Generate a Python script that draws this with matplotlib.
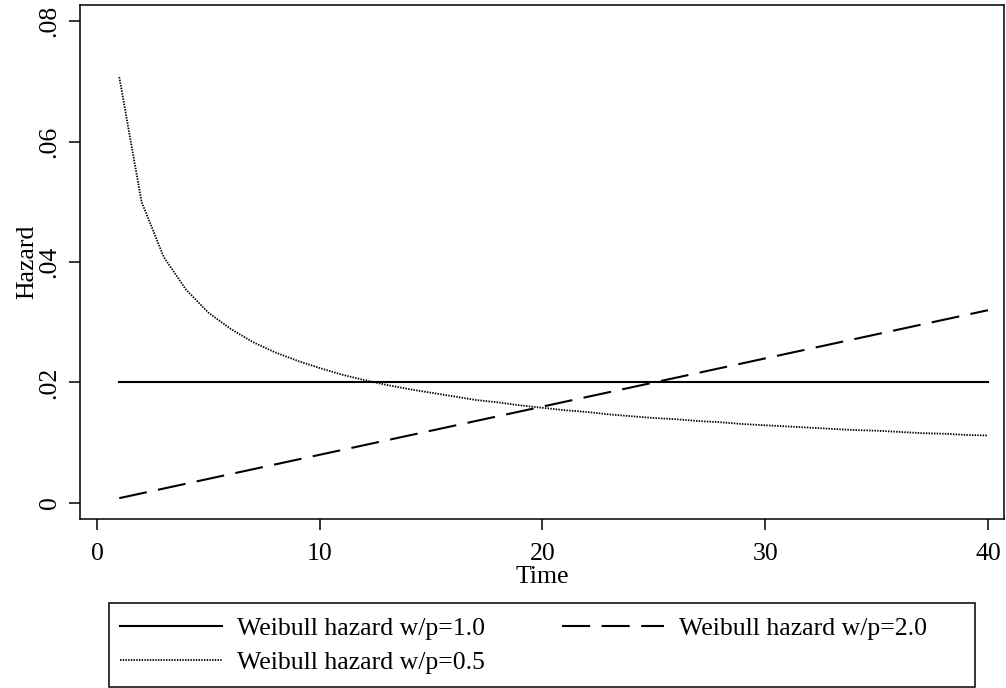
import matplotlib
matplotlib.use("Agg")
import matplotlib.pyplot as plt
from matplotlib.patches import Rectangle

plt.rcParams['font.family'] = ['Liberation Serif', 'DejaVu Serif']

# Time points (integer periods) and hazard values
time = list(range(1, 41))

haz_p10 = [0.020] * 40

haz_p20 = [0.0008, 0.0016, 0.0024, 0.0032, 0.0040, 0.0048, 0.0056, 0.0064,
           0.0072, 0.0080, 0.0088, 0.0096, 0.0104, 0.0112, 0.0120, 0.0128,
           0.0136, 0.0144, 0.0152, 0.0160, 0.0168, 0.0176, 0.0184, 0.0192,
           0.0200, 0.0208, 0.0216, 0.0224, 0.0232, 0.0240, 0.0248, 0.0256,
           0.0264, 0.0272, 0.0280, 0.0288, 0.0296, 0.0304, 0.0312, 0.0320]

haz_p05 = [0.0707, 0.0500, 0.0408, 0.0354, 0.0316, 0.0289, 0.0267, 0.0250,
           0.0236, 0.0224, 0.0213, 0.0204, 0.0196, 0.0189, 0.0183, 0.0177,
           0.0171, 0.0167, 0.0162, 0.0158, 0.0154, 0.0151, 0.0147, 0.0144,
           0.0141, 0.0139, 0.0136, 0.0134, 0.0131, 0.0129, 0.0127, 0.0125,
           0.0123, 0.0121, 0.0120, 0.0118, 0.0116, 0.0115, 0.0113, 0.0112]

labels = ["Weibull hazard w/p=1.0", "Weibull hazard w/p=0.5", "Weibull hazard w/p=2.0"]
xticks = [0, 10, 20, 30, 40]
yticks = [0, 0.02, 0.04, 0.06, 0.08]
yticklabels = ["0", ".02", ".04", ".06", ".08"]

W, H = 1006, 688
fig = plt.figure(figsize=(W / 100, H / 100), dpi=100)
ax = fig.add_axes([80 / W, 1 - 519 / H, (1004 - 80) / W, (519 - 5) / H])

fs = 18.5
l1, = ax.plot(time, haz_p10, color='black', lw=1.5, linestyle='-')
l2, = ax.plot(time, haz_p20, color='black', lw=1.5, dashes=(13.5, 5.5))
l3, = ax.plot(time, haz_p05, color='black', lw=1.3, linestyle=(0, (0.8, 0.7)))

ax.set_xlim(-0.763, 40.72)
ax.set_ylim(-0.00266, 0.08266)
ax.set_xticks(xticks)
ax.set_xticklabels([str(t) for t in xticks])
ax.set_yticks(yticks)
ax.set_yticklabels(yticklabels, rotation=90, va='center')

for s in ax.spines.values():
    s.set_linewidth(1.1)
ax.tick_params(axis='both', labelsize=fs, width=1.1, length=8)
ax.tick_params(axis='x', pad=9.5)
ax.tick_params(axis='y', pad=6)
ax.set_xlabel("Time", fontsize=fs, labelpad=0.5)
ax.set_ylabel("Hazard", fontsize=fs, labelpad=0.5)

# legend box drawn separately, Stata style
fig.add_artist(Rectangle((109 / W, 1 - 687 / H), (975 - 109) / W, (687 - 603) / H,
                         transform=fig.transFigure, fill=False, lw=1.1, ec='black'))
fig.legend([l1, l3, l2], labels, ncol=2, frameon=False, fontsize=fs,
           loc='upper left', bbox_to_anchor=(120 / W, 1 - 617 / H),
           borderpad=0, borderaxespad=0, handlelength=3.97, handletextpad=0.58,
           columnspacing=3.0, labelspacing=0.42)

fig.savefig("out.png", dpi=100)
